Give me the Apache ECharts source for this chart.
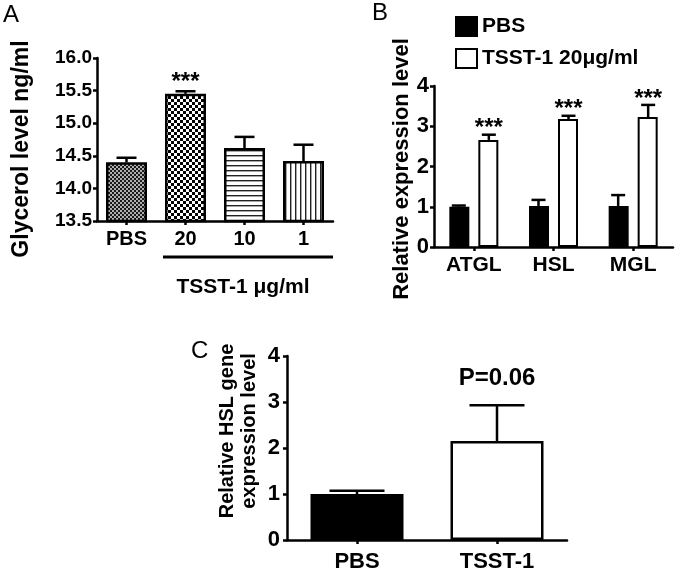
<!DOCTYPE html>
<html><head><meta charset="utf-8">
<script src="https://cdn.jsdelivr.net/npm/echarts@6/dist/echarts.min.js"></script>
<style>html,body{margin:0;padding:0;background:#fff}#c{width:680px;height:570px}</style>
</head><body><div id="c"></div>
<script>
// ---------- Panel A ----------
const catA = ['PBS', '20', '10', '1'];
const meanA = [14.40, 15.45, 14.62, 14.42];
const upperA = [14.47, 15.49, 14.79, 14.67];
const sigA = ['', '***', '', ''];
const yTicksA = ['13.5', '14.0', '14.5', '15.0', '15.5', '16.0'];
// ---------- Panel B ----------
const catB = ['ATGL', 'HSL', 'MGL'];
const pbsB = [1.00, 1.02, 1.02];
const pbsUpperB = [1.03, 1.17, 1.29];
const tsstB = [2.66, 3.18, 3.23];
const tsstUpperB = [2.79, 3.26, 3.53];
const sigB = ['***', '***', '***'];
const legendB = ['PBS', 'TSST-1 20\u03bcg/ml'];
const yTicksB = ['0', '1', '2', '3', '4'];
// ---------- Panel C ----------
const catC = ['PBS', 'TSST-1'];
const meanC = [1.00, 2.15];
const upperC = [1.07, 2.93];
const sigC = ['', 'P=0.06'];
const yTicksC = ['0', '1', '2', '3', '4'];

const FF = '"Liberation Sans", Arial, Helvetica, sans-serif';

function pat(w, h, bg, fg, draw) {
  const c = document.createElement('canvas');
  c.width = w; c.height = h;
  const g = c.getContext('2d');
  g.fillStyle = bg; g.fillRect(0, 0, w, h);
  g.fillStyle = fg; draw(g);
  return { image: c, repeat: 'repeat' };
}
const patternsA = [
  pat(4, 4, '#b0b0b0', '#1a1a1a', g => { g.fillRect(0, 0, 2, 2); g.fillRect(2, 2, 2, 2); }),
  pat(6, 6, '#ffffff', '#000000', g => { g.fillRect(0, 0, 3, 3); g.fillRect(3, 3, 3, 3); }),
  pat(5, 5, '#ffffff', '#222222', g => { g.fillRect(0, 0, 5, 1.4); }),
  pat(5, 5, '#ffffff', '#222222', g => { g.fillRect(0, 0, 1.4, 5); })
];

const axisLineStyle = { show: true, lineStyle: { color: '#000', width: 2.5 } };
const tickStyle = { show: true, length: 4, lineStyle: { color: '#000', width: 2.5 } };

function valueLabel(size, margin, ticks, min, step) {
  return {
    margin: margin, color: '#000', fontSize: size, fontWeight: 'bold', fontFamily: FF,
    formatter: (v) => ticks[Math.round((v - min) / step)]
  };
}

function errSeries(name, xi, yi, mean, upper, sig, offset, capW, labGap, labFont) {
  return {
    type: 'custom', name: name, xAxisIndex: xi, yAxisIndex: yi, z: 5, silent: true,
    data: mean.map((m, i) => [i, m, upper[i]]),
    renderItem: function (params, api) {
      const i = api.value(0);
      const p0 = api.coord([i, api.value(1)]);
      const p1 = api.coord([i, api.value(2)]);
      const x = p0[0] + offset;
      const ch = [
        { type: 'line', shape: { x1: x, y1: p0[1], x2: x, y2: p1[1] }, style: { stroke: '#000', lineWidth: 2.5 } },
        { type: 'line', shape: { x1: x - capW / 2, y1: p1[1], x2: x + capW / 2, y2: p1[1] }, style: { stroke: '#000', lineWidth: 2.5 } }
      ];
      const s = sig[params.dataIndex];
      if (s) {
        ch.push({ type: 'text', x: x, y: p1[1] - labGap,
          style: { text: s, fill: '#000', font: 'bold ' + labFont + 'px ' + FF, align: 'center', verticalAlign: 'middle' } });
      }
      return { type: 'group', children: ch };
    }
  };
}

const chart = echarts.init(document.getElementById('c'), null, { renderer: 'canvas' });
const option = {
  backgroundColor: '#fff',
  animation: false,
  textStyle: { fontFamily: FF },
  grid: [
    { left: 97, top: 58, width: 236, height: 163, containLabel: false, outerBoundsMode: 'none' },
    { left: 434, top: 86, width: 239, height: 161, containLabel: false, outerBoundsMode: 'none' },
    { left: 287, top: 356, width: 280, height: 184, containLabel: false, outerBoundsMode: 'none' }
  ],
  legend: {
    data: legendB.map(n => ({ name: n, icon: 'rect' })),
    left: 450, top: 11, orient: 'vertical', itemWidth: 21, itemHeight: 19, itemGap: 11,
    selectedMode: false,
    textStyle: { fontSize: 21, fontWeight: 'bold', color: '#000', fontFamily: FF }
  },
  xAxis: [
    { gridIndex: 0, type: 'category', data: catA, axisLine: axisLineStyle,
      axisTick: Object.assign({ alignWithLabel: true }, tickStyle),
      axisLabel: { fontSize: 20, fontWeight: 'bold', color: '#000', margin: 8, fontFamily: FF } },
    { gridIndex: 1, type: 'category', data: catB, axisLine: axisLineStyle,
      axisTick: Object.assign({ alignWithLabel: true }, tickStyle),
      axisLabel: { fontSize: 21, fontWeight: 'bold', color: '#000', margin: 8, fontFamily: FF } },
    { gridIndex: 2, type: 'category', data: catC, axisLine: axisLineStyle,
      axisTick: Object.assign({ alignWithLabel: true }, tickStyle),
      axisLabel: { fontSize: 22, fontWeight: 'bold', color: '#000', margin: 11, fontFamily: FF } }
  ],
  yAxis: [
    { gridIndex: 0, type: 'value', min: 13.5, max: 16.0, interval: 0.5, axisLine: axisLineStyle, axisTick: tickStyle,
      splitLine: { show: false }, axisLabel: valueLabel(19, 5, yTicksA, 13.5, 0.5) },
    { gridIndex: 1, type: 'value', min: 0, max: 4, interval: 1, axisLine: axisLineStyle, axisTick: tickStyle,
      splitLine: { show: false }, axisLabel: valueLabel(22, 5, yTicksB, 0, 1) },
    { gridIndex: 2, type: 'value', min: 0, max: 4, interval: 1, axisLine: axisLineStyle, axisTick: tickStyle,
      splitLine: { show: false }, axisLabel: valueLabel(22, 7, yTicksC, 0, 1) }
  ],
  series: [
    { type: 'bar', name: 'A', xAxisIndex: 0, yAxisIndex: 0, barWidth: 41,
      data: meanA.map((v, i) => ({ value: v, itemStyle: { color: patternsA[i] } })),
      itemStyle: { borderColor: '#000', borderWidth: 2.5 } },
    errSeries('errA', 0, 0, meanA, upperA, sigA, 0, 20, 9, 24),
    { type: 'bar', name: legendB[0], xAxisIndex: 1, yAxisIndex: 1, barWidth: 20, barGap: '45%',
      data: pbsB, itemStyle: { color: '#000', borderColor: '#000', borderWidth: 2 } },
    { type: 'bar', name: legendB[1], xAxisIndex: 1, yAxisIndex: 1, barWidth: 20, barGap: '45%',
      data: tsstB, itemStyle: { color: '#fff', borderColor: '#000', borderWidth: 2 } },
    errSeries('errB1', 1, 1, pbsB, pbsUpperB, ['', '', ''], -15, 14, 6, 24),
    errSeries('errB2', 1, 1, tsstB, tsstUpperB, sigB, 15, 14, 6, 24),
    { type: 'bar', name: 'C', xAxisIndex: 2, yAxisIndex: 2, barWidth: 93,
      data: meanC.map((v, i) => ({ value: v, itemStyle: { color: i === 0 ? '#000' : '#fff' } })),
      itemStyle: { borderColor: '#000', borderWidth: 2.5 } },
    errSeries('errC', 2, 2, meanC, upperC, sigC, 0, 55, 27, 24)
  ],
  graphic: [
    { type: 'text', x: 3, y: 3, style: { text: 'A', font: '24px ' + FF, fill: '#000' } },
    { type: 'text', x: 372, y: 1, style: { text: 'B', font: '24px ' + FF, fill: '#000' } },
    { type: 'text', x: 191, y: 339, style: { text: 'C', font: '24px ' + FF, fill: '#000' } },
    { type: 'text', x: 22, y: 149, rotation: Math.PI / 2,
      style: { text: 'Glycerol level ng/ml', font: 'bold 23px ' + FF, fill: '#000', align: 'center', verticalAlign: 'middle' } },
    { type: 'text', x: 402, y: 169, rotation: Math.PI / 2,
      style: { text: 'Relative expression level', font: 'bold 22px ' + FF, fill: '#000', align: 'center', verticalAlign: 'middle' } },
    { type: 'text', x: 238, y: 431, rotation: Math.PI / 2,
      style: { text: 'Relative HSL gene\nexpression level', font: 'bold 20px ' + FF, lineHeight: 22, fill: '#000', align: 'center', verticalAlign: 'middle' } },
    { type: 'line', shape: { x1: 163, y1: 257, x2: 333, y2: 257 }, style: { stroke: '#000', lineWidth: 3 } },
    { type: 'text', x: 243, y: 287,
      style: { text: 'TSST-1 \u03bcg/ml', font: 'bold 21px ' + FF, fill: '#000', align: 'center', verticalAlign: 'middle' } }
  ]
};
chart.setOption(option);
</script>
</body></html>
